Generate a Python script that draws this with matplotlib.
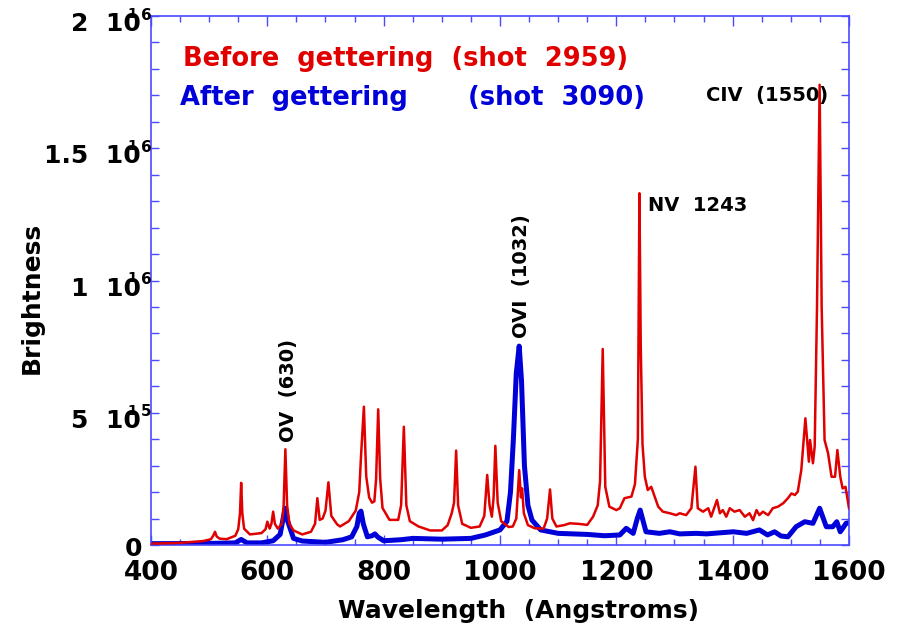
import matplotlib
matplotlib.use("Agg")
import matplotlib.pyplot as plt
from matplotlib.ticker import MultipleLocator
from matplotlib.transforms import blended_transform_factory

# ---------------- data ----------------
red_wl = [400, 450, 490, 503, 507, 510, 513, 518, 530, 545, 550, 553, 555, 557, 560, 570, 590, 597,
          600, 604, 607, 610, 613, 618, 625, 628, 631, 634, 638, 645, 660, 675, 682, 686, 690,
          695, 700, 705, 710, 720, 725, 740, 752, 758, 761, 766, 770, 775, 780, 784, 787, 790.6,
          794, 798, 810, 825, 830, 834.7, 839, 845, 860, 880, 900, 910, 917, 921, 924.6, 928,
          935, 950, 965, 973, 978, 982, 986, 989, 992, 996, 1002, 1015, 1022, 1028, 1033, 1036,
          1038, 1041, 1048, 1060, 1075, 1081, 1086, 1090, 1097, 1110, 1120, 1135, 1150, 1160,
          1168, 1172, 1176.6, 1181, 1188, 1200, 1206, 1214, 1226, 1232, 1237, 1239.7, 1242, 1245,
          1249, 1254, 1260, 1266, 1272, 1280, 1292, 1303, 1309, 1320, 1329, 1336, 1340, 1349,
          1358, 1363, 1373, 1378, 1383, 1389, 1395, 1403, 1412, 1421, 1429, 1435, 1441, 1446,
          1452, 1461, 1469, 1478, 1487, 1495, 1501, 1507, 1512, 1518, 1525, 1531, 1533, 1538,
          1541, 1545, 1549.5, 1553, 1558, 1564, 1570, 1576, 1580, 1585, 1589, 1594, 1600]
red_val = [5e3, 8e3, 15e3, 22e3, 35e3, 50e3, 32e3, 24e3, 22e3, 35e3, 60e3, 120e3, 235e3, 120e3, 62e3, 40e3, 45e3, 60e3,
           88e3, 62e3, 80e3, 126e3, 80e3, 62e3, 80e3, 150e3, 362e3, 150e3, 80e3, 55e3, 40e3, 50e3, 80e3, 177e3, 95e3,
           100e3, 130e3, 237e3, 110e3, 78e3, 70e3, 90e3, 130e3, 200e3, 334e3, 523e3, 260e3, 180e3, 160e3, 165e3, 250e3, 513e3,
           250e3, 140e3, 95e3, 95e3, 150e3, 447e3, 150e3, 90e3, 70e3, 55e3, 55e3, 75e3, 120e3, 160e3, 357e3, 150e3,
           80e3, 65e3, 70e3, 110e3, 265e3, 150e3, 107e3, 180e3, 375e3, 160e3, 90e3, 68e3, 70e3, 100e3, 283e3, 180e3,
           214e3, 120e3, 75e3, 63e3, 62e3, 100e3, 210e3, 100e3, 70e3, 75e3, 82e3, 80e3, 76e3, 107e3,
           150e3, 240e3, 741e3, 220e3, 145e3, 132e3, 139e3, 177e3, 183e3, 230e3, 400e3, 1330e3, 750e3, 380e3,
           258e3, 208e3, 220e3, 183e3, 145e3, 126e3, 120e3, 113e3, 120e3, 113e3, 139e3, 296e3, 139e3, 126e3,
           139e3, 107e3, 170e3, 120e3, 132e3, 107e3, 139e3, 126e3, 132e3, 107e3, 120e3, 94e3, 132e3, 113e3,
           126e3, 113e3, 139e3, 145e3, 158e3, 177e3, 195e3, 189e3, 202e3, 284e3, 479e3, 315e3, 397e3, 309e3,
           372e3, 900e3, 1740e3, 900e3, 397e3, 347e3, 258e3, 258e3, 359e3, 258e3, 214e3, 220e3, 139e3]

blue_wl = [400, 500, 545, 555, 565, 590, 610, 622, 628, 631, 635, 645, 660, 700, 730, 745, 754,
           758, 761, 765, 772, 780, 785, 790, 800, 830, 850, 900, 950, 975, 1000, 1012, 1018,
           1023, 1028, 1033, 1037, 1042, 1048, 1055, 1070, 1100, 1150, 1180, 1206, 1217, 1229,
           1236, 1241, 1251, 1274, 1292, 1309, 1337, 1355, 1378, 1401, 1424, 1446, 1460, 1472,
           1483, 1495, 1509, 1524, 1538, 1549.5, 1561, 1572, 1579, 1585, 1595, 1600]
blue_val = [5e3, 6e3, 8e3, 21e3, 8e3, 8e3, 16e3, 40e3, 110e3, 139e3, 90e3, 25e3, 15e3, 10e3, 20e3, 31e3, 70e3,
            120e3, 128e3, 80e3, 31e3, 35e3, 42e3, 30e3, 16e3, 20e3, 25e3, 22e3, 25e3, 38e3, 57e3, 90e3, 200e3,
            400e3, 650e3, 752e3, 620e3, 300e3, 150e3, 94e3, 57e3, 44e3, 40e3, 35e3, 38e3, 63e3, 44e3,
            100e3, 132e3, 50e3, 44e3, 50e3, 42e3, 44e3, 42e3, 46e3, 50e3, 44e3, 57e3, 38e3, 50e3,
            34e3, 31e3, 69e3, 88e3, 82e3, 139e3, 69e3, 69e3, 88e3, 50e3, 82e3, 84e3]

x_ticks = [400, 600, 800, 1000, 1200, 1400, 1600]
y_ticks = [5e5, 1e6, 1.5e6, 2e6]
y_mant = ["5", "1", "1.5", "2"]
y_exp = ["5", "6", "6", "6"]

RED = "#e00000"
BLUE = "#0000d8"
AXC = "#4a4aff"
W, H = 903, 627

fig = plt.figure(figsize=(W / 100, H / 100), dpi=100)
ax = fig.add_axes([151 / W, 1 - 545 / H, (849 - 151) / W, (545 - 16) / H])

ax.plot(red_wl, red_val, color=RED, lw=1.8, solid_joinstyle="round", zorder=3)
ax.plot(blue_wl, blue_val, color=BLUE, lw=3.6, solid_joinstyle="round", zorder=2)

ax.set_xlim(400, 1600)
ax.set_ylim(0, 2e6)
ax.xaxis.set_major_locator(MultipleLocator(200))
ax.xaxis.set_minor_locator(MultipleLocator(50))
ax.yaxis.set_major_locator(MultipleLocator(5e5))
ax.yaxis.set_minor_locator(MultipleLocator(1e5))
for s in ax.spines.values():
    s.set_color(AXC)
    s.set_linewidth(1.2)
ax.tick_params(which="both", direction="in", top=True, right=True, color=AXC, width=1.0)
ax.tick_params(which="major", axis="x", length=7)
ax.tick_params(which="minor", axis="x", length=4)
ax.tick_params(which="both", axis="y", length=5.5)

ax.set_xticks(x_ticks)
ax.set_xticklabels([str(t) for t in x_ticks], fontsize=19, fontweight="bold", family="DejaVu Sans")
ax.tick_params(axis="x", pad=11)
ax.set_yticklabels([])

def fx(px):
    return px / W

def fy(py):
    return 1 - py / H

# y tick labels, IDL style
tr = blended_transform_factory(fig.transFigure, ax.transData)
for v, m, e in zip(y_ticks, y_mant, y_exp):
    off = -8.0 / 264.5 * 1e6
    ax.text(fx(141), v + off, m + "  10", transform=tr, ha="right", va="center",
            fontsize=18, fontweight="bold", clip_on=False)
    ax.text(fx(141), v + off + 9.0 / 264.5 * 1e6, e, transform=tr, ha="left", va="center",
            fontsize=11, fontweight="bold", clip_on=False)
    ax.text(fx(127), v + off + 10.0 / 264.5 * 1e6, "1", transform=tr, ha="left", va="center",
            fontsize=10, fontweight="bold", clip_on=False)
fig.text(fx(133), fy(549), "0", ha="center", va="center", fontsize=18, fontweight="bold")

fig.text(fx(519), fy(611), "Wavelength  (Angstroms)", ha="center", va="center",
         fontsize=18, fontweight="bold")
fig.text(fx(32), fy(298), "Brightness", ha="center", va="center", rotation=90,
         fontsize=18, fontweight="bold")

# legend texts
fig.text(fx(183), fy(66), "Before  gettering  (shot  2959)", ha="left", va="baseline",
         fontsize=18.5, fontweight="bold", color=RED)
fig.text(fx(180), fy(105), "After  gettering", ha="left", va="baseline",
         fontsize=18.5, fontweight="bold", color=BLUE)
fig.text(fx(468), fy(105), "(shot  3090)", ha="left", va="baseline",
         fontsize=18.5, fontweight="bold", color=BLUE)

# line annotations
ax.text(637, 389e3, "OV  (630)", rotation=90, ha="center", va="bottom",
        fontsize=14, fontweight="bold", color="black")
ax.text(1037.5, 782e3, "OVI  (1032)", rotation=90, ha="center", va="bottom",
        fontsize=14, fontweight="bold", color="black")
ax.text(1254, 1.32e6, "NV  1243", ha="left", va="top",
        fontsize=14, fontweight="bold", color="black")
ax.text(1355, 1.735e6, "CIV  (1550)", ha="left", va="top",
        fontsize=14, fontweight="bold", color="black")

fig.savefig("out.png", dpi=100)
